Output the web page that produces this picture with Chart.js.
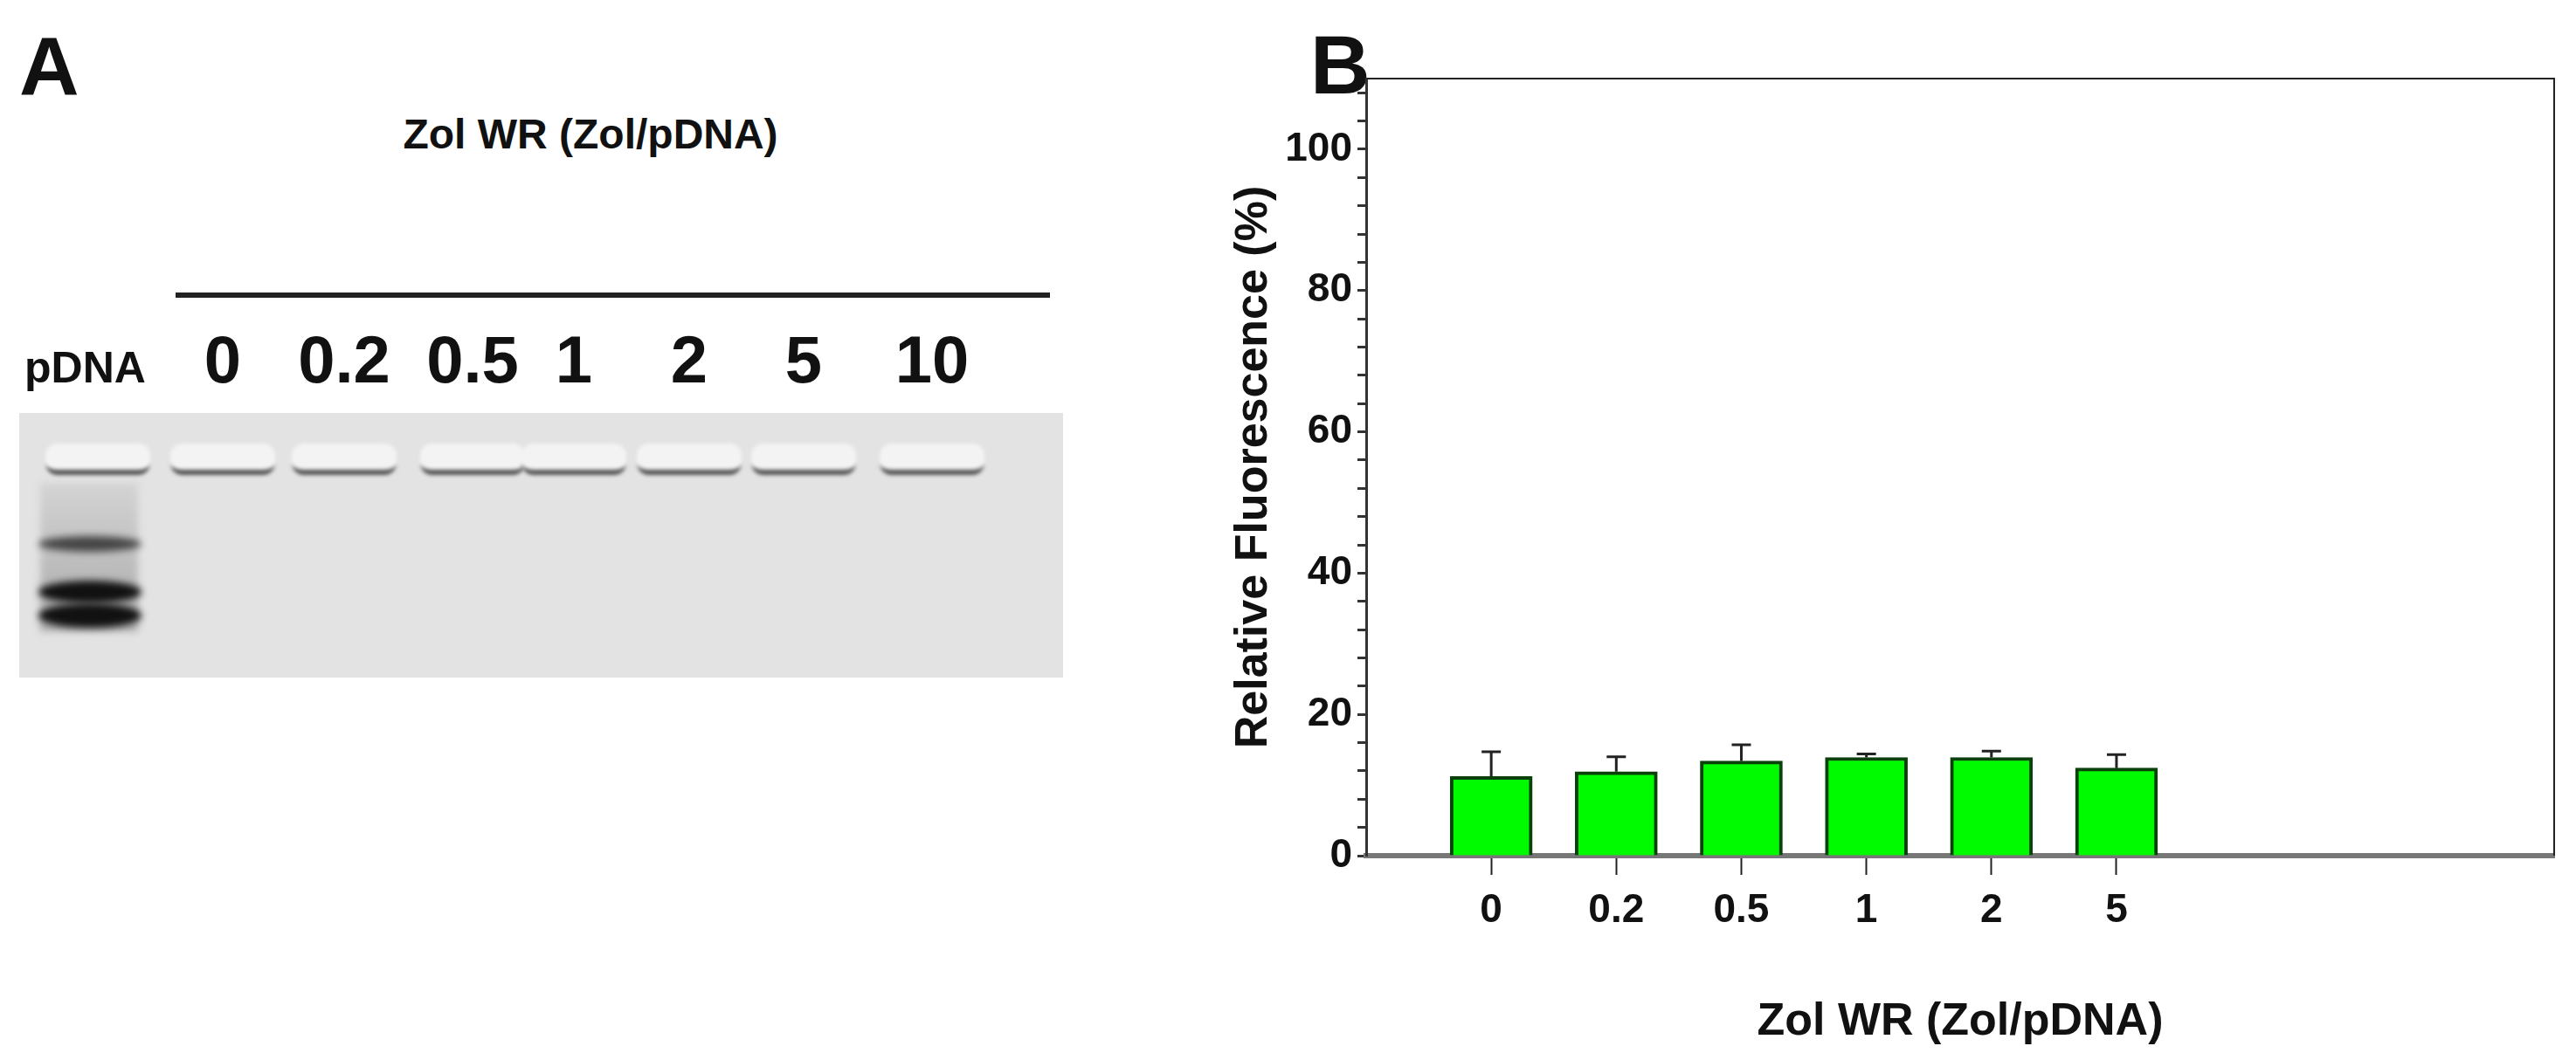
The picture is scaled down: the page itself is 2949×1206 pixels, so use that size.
<!DOCTYPE html>
<html>
<head>
<meta charset="utf-8">
<script src="https://cdn.jsdelivr.net/npm/chart.js@4"></script>
<style>
  body { margin: 0; background: #fff; font-family: "Liberation Sans", Arial, sans-serif; }
  #page { position: relative; width: 2949px; height: 1206px; overflow: hidden; }
  .txt { position: absolute; font-weight: bold; color: #111; white-space: nowrap; }
  .c { transform: translateX(-50%); }
  #gel { position: absolute; left: 22px; top: 473px; width: 1195px; height: 303px; background: #e3e3e3; overflow: hidden; }
  .well { position: absolute; top: 35px; height: 30px; border-radius: 14px; background: #f3f3f3; border-bottom: 6px solid #555; filter: blur(2px); }
  .band { position: absolute; border-radius: 50%; background: #111; filter: blur(4px); }
  #chartBox { position: absolute; left: 1400px; top: 0; width: 1549px; height: 1206px; }
</style>
</head>
<body>
<div id="page">
  <div class="txt" style="left:22px;top:22px;font-size:95px;">A</div>
  <div class="txt" style="left:1500px;top:20px;font-size:95px;">B</div>
  <div class="txt c" style="left:676px;top:126px;font-size:48px;">Zol WR (Zol/pDNA)</div>
  <div style="position:absolute;left:201px;top:335px;width:1001px;height:6px;background:#222;"></div>
  <div class="txt" style="left:28px;top:392px;font-size:50px;">pDNA</div>
  <div id="laneLabels"></div>
  <div id="gel"></div>
  <div id="chartBox"><canvas id="fluoChart"></canvas></div>
</div>
<script>
// ── Data ─────────────────────────────────────────────────────────
const ratioLabels = ['0', '0.2', '0.5', '1', '2', '5'];
const fluorescence = [11.2, 11.9, 13.4, 13.9, 13.9, 12.4];
const fluorescenceErr = [3.5, 2.1, 2.3, 0.5, 0.9, 1.9];
const gelLaneLabels = ['0', '0.2', '0.5', '1', '2', '5', '10'];

// ── Panel A (gel photo, drawn loosely) ───────────────────────────
const laneX = [255, 394, 541, 657, 789, 920, 1067];
const labelBox = document.getElementById('laneLabels');
gelLaneLabels.forEach((t, i) => {
  const d = document.createElement('div');
  d.className = 'txt c';
  d.style.cssText = `left:${laneX[i]}px;top:368px;font-size:76px;`;
  d.textContent = t;
  labelBox.appendChild(d);
});
const gel = document.getElementById('gel');
const smear = document.createElement('div');
smear.style.cssText = 'position:absolute;left:24px;top:80px;width:112px;height:170px;background:linear-gradient(#d4d4d4,#aaa);filter:blur(4px);';
gel.appendChild(smear);
[90].concat(laneX.map(x => x - 22)).forEach(cx => {
  const w = document.createElement('div');
  w.className = 'well';
  w.style.left = (cx - 60) + 'px';
  w.style.width = '120px';
  gel.appendChild(w);
});
[[150, 18, 0.7], [205, 26, 1], [232, 28, 1]].forEach(([y, h, o]) => {
  const b = document.createElement('div');
  b.className = 'band';
  b.style.cssText = `left:22px;top:${y - h / 2}px;width:118px;height:${h}px;opacity:${o};`;
  gel.appendChild(b);
});

// ── Panel B (bar chart) ──────────────────────────────────────────
const errorBars = {
  id: 'errorBars',
  afterDatasetsDraw(chart) {
    const { ctx, scales: { x, y } } = chart;
    ctx.save();
    ctx.strokeStyle = '#222';
    ctx.lineWidth = 3;
    fluorescence.forEach((v, i) => {
      const px = x.getPixelForValue(i);
      const top = y.getPixelForValue(v + fluorescenceErr[i]);
      ctx.beginPath();
      ctx.moveTo(px, y.getPixelForValue(v));
      ctx.lineTo(px, top);
      ctx.moveTo(px - 11, top);
      ctx.lineTo(px + 11, top);
      ctx.stroke();
    });
    ctx.restore();
  }
};

const frame = {
  id: 'frame',
  afterDraw(chart) {
    const { ctx, chartArea: a } = chart;
    ctx.save();
    ctx.strokeStyle = '#222';
    ctx.lineWidth = 2;
    ctx.beginPath();
    ctx.moveTo(a.left, a.top);
    ctx.lineTo(a.right, a.top);
    ctx.lineTo(a.right, a.bottom);
    ctx.stroke();
    ctx.restore();
  }
};

Chart.defaults.font.family = '"Liberation Sans", Arial, sans-serif';
Chart.defaults.font.weight = 'bold';
Chart.defaults.color = '#111';

new Chart(document.getElementById('fluoChart'), {
  type: 'bar',
  data: {
    datasets: [{
      data: fluorescence.map((v, i) => ({ x: i, y: v })),
      backgroundColor: '#00fb00',
      borderColor: '#0a400a',
      borderWidth: 4,
      barThickness: 94,
    }]
  },
  options: {
    responsive: true,
    maintainAspectRatio: false,
    animation: false,
    layout: { padding: { top: 90, right: 25 } },
    plugins: { legend: { display: false }, tooltip: { enabled: false } },
    scales: {
      x: {
        type: 'linear',
        offset: false,
        min: -1,
        max: 8.5,
        afterBuildTicks: s => { s.ticks = ratioLabels.map((_, i) => ({ value: i })); },
        afterFit: s => { s.height = 226; },
        ticks: {
          autoSkip: false,
          callback: v => ratioLabels[v],
          font: { size: 46 },
          padding: 14,
        },
        grid: { offset: false, drawOnChartArea: false, tickLength: 22, tickWidth: 2, tickColor: '#222' },
        border: { color: '#777', width: 6 },
        title: { display: true, text: 'Zol WR (Zol/pDNA)', font: { size: 52 }, padding: { top: 10 } },
      },
      y: {
        min: 0,
        max: 110,
        afterBuildTicks: s => {
          const t = [];
          for (let v = 0; v <= 108; v += 4) t.push({ value: v });
          s.ticks = t;
        },
        afterFit: s => { s.width = 164; },
        ticks: {
          autoSkip: false,
          callback: v => (v % 20 === 0 && v <= 100 ? v : ''),
          font: { size: 46 },
          padding: 6,
        },
        grid: { drawOnChartArea: false, tickLength: 10, tickWidth: 3, tickColor: '#333' },
        border: { color: '#333', width: 3 },
        title: { display: true, text: 'Relative Fluorescence (%)', font: { size: 52 }, padding: { bottom: 4 } },
      },
    },
  },
  plugins: [errorBars, frame],
});
</script>
</body>
</html>
